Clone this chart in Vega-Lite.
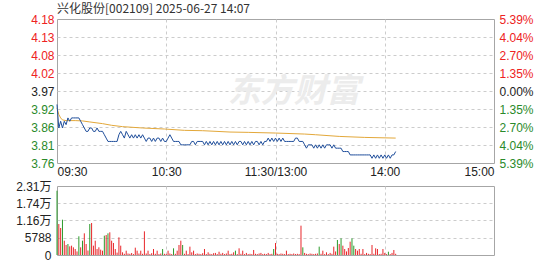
{
  "$schema": "https://vega.github.io/schema/vega-lite/v6.json",
  "background": "white",
  "padding": {"left": 15, "top": 2, "right": 5, "bottom": 5},
  "spacing": 23,
  "bounds": "flush",
  "config": {
    "view": {"stroke": "#a6a6a6", "strokeWidth": 1},
    "axis": {
      "labelFont": "Liberation Sans, 'Noto Sans CJK SC', sans-serif",
      "labelFontSize": 12,
      "labelColor": "#222222",
      "domain": false,
      "ticks": false,
      "title": null,
      "gridColor": "#cccccc",
      "gridDash": [3, 3],
      "gridWidth": 1
    }
  },
  "datasets": {
    "minutes": [
      {"t":0,"p":3.93,"v":21570,"d":"g"},{"t":1,"p":3.86,"v":10400,"d":"r"},{"t":2,"p":3.88,"v":9060,"d":"r"},{"t":3,"p":3.86,"v":11840,"d":"g"},
      {"t":4,"p":3.88,"v":4800,"d":"r"},{"t":5,"p":3.87,"v":3360,"d":"r"},{"t":6,"p":3.89,"v":3690,"d":"g"},{"t":7,"p":3.88,"v":2900,"d":"r"},
      {"t":8,"p":3.89,"v":3130,"d":"r"},{"t":9,"p":3.89,"v":2570,"d":"r"},{"t":10,"p":3.89,"v":2010,"d":"r"},{"t":11,"p":3.89,"v":1200,"d":"r"},
      {"t":12,"p":3.89,"v":6270,"d":"g"},{"t":13,"p":3.88,"v":2570,"d":"r"},{"t":14,"p":3.87,"v":4800,"d":"g"},{"t":15,"p":3.86,"v":7270,"d":"r"},
      {"t":16,"p":3.85,"v":3690,"d":"r"},{"t":17,"p":3.85,"v":1500,"d":"r"},{"t":18,"p":3.86,"v":10400,"d":"g"},{"t":19,"p":3.86,"v":10740,"d":"r"},
      {"t":20,"p":3.85,"v":3130,"d":"r"},{"t":21,"p":3.85,"v":4800,"d":"r"},{"t":22,"p":3.86,"v":2010,"d":"r"},{"t":23,"p":3.85,"v":2580,"d":"r"},
      {"t":24,"p":3.85,"v":1800,"d":"r"},{"t":25,"p":3.85,"v":1450,"d":"r"},{"t":26,"p":3.84,"v":6480,"d":"g"},{"t":27,"p":3.83,"v":6710,"d":"r"},
      {"t":28,"p":3.82,"v":7270,"d":"g"},{"t":29,"p":3.82,"v":7610,"d":"r"},{"t":30,"p":3.82,"v":4800,"d":"r"},{"t":31,"p":3.82,"v":4030,"d":"r"},
      {"t":32,"p":3.82,"v":2010,"d":"r"},{"t":33,"p":3.82,"v":800,"d":"r"},{"t":34,"p":3.84,"v":5930,"d":"r"},{"t":35,"p":3.85,"v":3130,"d":"r"},
      {"t":36,"p":3.84,"v":900,"d":"r"},{"t":37,"p":3.83,"v":400,"d":"r"},{"t":38,"p":3.85,"v":1450,"d":"r"},{"t":39,"p":3.84,"v":500,"d":"r"},
      {"t":40,"p":3.83,"v":400,"d":"r"},{"t":41,"p":3.84,"v":670,"d":"r"},{"t":42,"p":3.83,"v":300,"d":"r"},{"t":43,"p":3.84,"v":2460,"d":"r"},
      {"t":44,"p":3.83,"v":1450,"d":"r"},{"t":45,"p":3.84,"v":500,"d":"r"},{"t":46,"p":3.83,"v":1450,"d":"r"},{"t":47,"p":3.84,"v":400,"d":"r"},
      {"t":48,"p":3.83,"v":7940,"d":"r"},{"t":49,"p":3.82,"v":500,"d":"r"},{"t":50,"p":3.83,"v":1450,"d":"r"},{"t":51,"p":3.83,"v":300,"d":"r"},
      {"t":52,"p":3.82,"v":600,"d":"r"},{"t":53,"p":3.83,"v":2010,"d":"r"},{"t":54,"p":3.82,"v":400,"d":"r"},{"t":55,"p":3.83,"v":1450,"d":"r"},
      {"t":56,"p":3.83,"v":300,"d":"r"},{"t":57,"p":3.82,"v":500,"d":"r"},{"t":58,"p":3.83,"v":2010,"d":"g"},{"t":59,"p":3.82,"v":400,"d":"r"},
      {"t":60,"p":3.82,"v":300,"d":"r"},{"t":61,"p":3.83,"v":1450,"d":"r"},{"t":62,"p":3.84,"v":500,"d":"r"},{"t":63,"p":3.83,"v":300,"d":"r"},
      {"t":64,"p":3.82,"v":2240,"d":"g"},{"t":65,"p":3.82,"v":400,"d":"r"},{"t":66,"p":3.82,"v":1450,"d":"r"},{"t":67,"p":3.82,"v":3360,"d":"r"},
      {"t":68,"p":3.81,"v":4800,"d":"r"},{"t":69,"p":3.81,"v":3360,"d":"g"},{"t":70,"p":3.81,"v":400,"d":"r"},{"t":71,"p":3.81,"v":1450,"d":"r"},
      {"t":72,"p":3.81,"v":300,"d":"r"},{"t":73,"p":3.81,"v":2800,"d":"r"},{"t":74,"p":3.82,"v":900,"d":"r"},{"t":75,"p":3.82,"v":1450,"d":"r"},
      {"t":76,"p":3.81,"v":300,"d":"r"},{"t":77,"p":3.82,"v":500,"d":"r"},{"t":78,"p":3.82,"v":400,"d":"r"},{"t":79,"p":3.82,"v":300,"d":"r"},
      {"t":80,"p":3.82,"v":600,"d":"r"},{"t":81,"p":3.81,"v":2010,"d":"r"},{"t":82,"p":3.82,"v":300,"d":"r"},{"t":83,"p":3.81,"v":900,"d":"r"},
      {"t":84,"p":3.82,"v":400,"d":"r"},{"t":85,"p":3.81,"v":300,"d":"r"},{"t":86,"p":3.82,"v":600,"d":"r"},{"t":87,"p":3.81,"v":700,"d":"r"},
      {"t":88,"p":3.82,"v":300,"d":"r"},{"t":89,"p":3.81,"v":1100,"d":"r"},{"t":90,"p":3.82,"v":400,"d":"r"},{"t":91,"p":3.81,"v":700,"d":"r"},
      {"t":92,"p":3.82,"v":300,"d":"r"},{"t":93,"p":3.81,"v":500,"d":"r"},{"t":94,"p":3.82,"v":1450,"d":"r"},{"t":95,"p":3.81,"v":300,"d":"r"},
      {"t":96,"p":3.82,"v":400,"d":"r"},{"t":97,"p":3.81,"v":900,"d":"r"},{"t":98,"p":3.82,"v":1450,"d":"g"},{"t":99,"p":3.81,"v":300,"d":"r"},
      {"t":100,"p":3.82,"v":2240,"d":"r"},{"t":101,"p":3.82,"v":400,"d":"r"},{"t":102,"p":3.81,"v":1450,"d":"r"},{"t":103,"p":3.82,"v":300,"d":"r"},
      {"t":104,"p":3.81,"v":700,"d":"r"},{"t":105,"p":3.82,"v":300,"d":"r"},{"t":106,"p":3.81,"v":400,"d":"r"},{"t":107,"p":3.82,"v":300,"d":"r"},
      {"t":108,"p":3.81,"v":1680,"d":"r"},{"t":109,"p":3.82,"v":400,"d":"r"},{"t":110,"p":3.82,"v":300,"d":"r"},{"t":111,"p":3.81,"v":500,"d":"r"},
      {"t":112,"p":3.82,"v":700,"d":"r"},{"t":113,"p":3.81,"v":300,"d":"r"},{"t":114,"p":3.82,"v":400,"d":"r"},{"t":115,"p":3.82,"v":300,"d":"r"},
      {"t":116,"p":3.83,"v":700,"d":"r"},{"t":117,"p":3.82,"v":300,"d":"r"},{"t":118,"p":3.83,"v":400,"d":"r"},{"t":119,"p":3.82,"v":2010,"d":"g"},
      {"t":120,"p":3.83,"v":4030,"d":"r"},{"t":121,"p":3.82,"v":400,"d":"r"},{"t":122,"p":3.83,"v":300,"d":"r"},{"t":123,"p":3.82,"v":500,"d":"r"},
      {"t":124,"p":3.83,"v":400,"d":"r"},{"t":125,"p":3.82,"v":300,"d":"r"},{"t":126,"p":3.82,"v":1450,"d":"r"},{"t":127,"p":3.82,"v":300,"d":"r"},
      {"t":128,"p":3.82,"v":400,"d":"r"},{"t":129,"p":3.82,"v":300,"d":"r"},{"t":130,"p":3.82,"v":500,"d":"r"},{"t":131,"p":3.83,"v":300,"d":"r"},
      {"t":132,"p":3.83,"v":400,"d":"r"},{"t":133,"p":3.82,"v":300,"d":"r"},{"t":134,"p":3.82,"v":9840,"d":"r"},{"t":135,"p":3.82,"v":2570,"d":"g"},
      {"t":136,"p":3.81,"v":700,"d":"r"},{"t":137,"p":3.80,"v":400,"d":"r"},{"t":138,"p":3.81,"v":300,"d":"r"},{"t":139,"p":3.81,"v":500,"d":"r"},
      {"t":140,"p":3.81,"v":400,"d":"r"},{"t":141,"p":3.80,"v":300,"d":"r"},{"t":142,"p":3.81,"v":400,"d":"r"},{"t":143,"p":3.80,"v":500,"d":"r"},
      {"t":144,"p":3.81,"v":2800,"d":"g"},{"t":145,"p":3.80,"v":400,"d":"r"},{"t":146,"p":3.81,"v":1450,"d":"r"},{"t":147,"p":3.80,"v":300,"d":"r"},
      {"t":148,"p":3.81,"v":900,"d":"r"},{"t":149,"p":3.81,"v":300,"d":"r"},{"t":150,"p":3.81,"v":700,"d":"r"},{"t":151,"p":3.80,"v":400,"d":"r"},
      {"t":152,"p":3.81,"v":2800,"d":"r"},{"t":153,"p":3.80,"v":1200,"d":"r"},{"t":154,"p":3.80,"v":5030,"d":"g"},{"t":155,"p":3.80,"v":3690,"d":"r"},
      {"t":156,"p":3.80,"v":5590,"d":"g"},{"t":157,"p":3.79,"v":3130,"d":"r"},{"t":158,"p":3.79,"v":2010,"d":"r"},{"t":159,"p":3.79,"v":1200,"d":"r"},
      {"t":160,"p":3.79,"v":2350,"d":"r"},{"t":161,"p":3.78,"v":4470,"d":"r"},{"t":162,"p":3.78,"v":5590,"d":"g"},{"t":163,"p":3.78,"v":3130,"d":"g"},
      {"t":164,"p":3.78,"v":2010,"d":"r"},{"t":165,"p":3.78,"v":1450,"d":"r"},{"t":166,"p":3.78,"v":2010,"d":"r"},{"t":167,"p":3.78,"v":400,"d":"r"},
      {"t":168,"p":3.78,"v":2010,"d":"r"},{"t":169,"p":3.78,"v":300,"d":"r"},{"t":170,"p":3.78,"v":700,"d":"r"},{"t":171,"p":3.78,"v":400,"d":"r"},
      {"t":172,"p":3.78,"v":300,"d":"r"},{"t":173,"p":3.77,"v":3360,"d":"r"},{"t":174,"p":3.78,"v":400,"d":"r"},{"t":175,"p":3.77,"v":2240,"d":"r"},
      {"t":176,"p":3.78,"v":2010,"d":"r"},{"t":177,"p":3.77,"v":300,"d":"r"},{"t":178,"p":3.78,"v":400,"d":"r"},{"t":179,"p":3.77,"v":2010,"d":"r"},
      {"t":180,"p":3.78,"v":700,"d":"r"},{"t":181,"p":3.77,"v":300,"d":"r"},{"t":182,"p":3.78,"v":1100,"d":"g"},{"t":183,"p":3.77,"v":300,"d":"r"},
      {"t":184,"p":3.78,"v":700,"d":"r"},{"t":185,"p":3.78,"v":1680,"d":"r"},{"t":186,"p":3.79,"v":400,"d":"r"}
    ],
    "avg": [
      {"t":0,"a":3.92},{"t":1,"a":3.90},{"t":2,"a":3.89},{"t":3,"a":3.884},{"t":5,"a":3.882},{"t":10,"a":3.882},
      {"t":14,"a":3.881},{"t":18,"a":3.878},{"t":25,"a":3.873},{"t":30,"a":3.868},{"t":36,"a":3.864},{"t":47,"a":3.860},
      {"t":59,"a":3.857},{"t":70,"a":3.853},{"t":80,"a":3.852},{"t":95,"a":3.848},{"t":105,"a":3.847},{"t":120,"a":3.845},
      {"t":136,"a":3.842},{"t":142,"a":3.840},{"t":155,"a":3.835},{"t":169,"a":3.832},{"t":186,"a":3.830}
    ],
    "brand": [{"label": "东方财富", "t": 130, "p": 3.967}]
  },
  "vconcat": [
    {
      "width": 437,
      "height": 144,
      "title": {
        "text": "兴化股份[002109] 2025-06-27 14:07",
        "anchor": "start",
        "frame": "group",
        "font": "'Noto Sans CJK SC', sans-serif",
        "fontSize": 12,
        "fontWeight": "normal",
        "color": "#333333",
        "offset": -3
      },
      "encoding": {
        "x": {
          "field": "t", "type": "quantitative",
          "scale": {"domain": [0, 240], "nice": false},
          "axis": {
            "values": [0, 60, 120, 180, 240],
            "labelExpr": "datum.value == 0 ? '09:30' : datum.value == 60 ? '10:30' : datum.value == 120 ? '11:30/13:00' : datum.value == 180 ? '14:00' : '15:00'",
            "labelFlush": true,
            "labelPadding": 3,
            "grid": true,
            "gridOpacity": {"condition": {"test": "datum.value == 0 || datum.value == 240", "value": 0}, "value": 1}
          }
        }
      },
      "layer": [
        {
          "data": {"name": "brand"},
          "mark": {"type": "text", "font": "'Noto Sans CJK SC', sans-serif", "fontSize": 33, "fontWeight": "bold", "fontStyle": "italic", "color": "#ececec"},
          "encoding": {
            "y": {"field": "p", "type": "quantitative", "scale": {"domain": [3.7559376, 4.1840624], "nice": false, "zero": false}, "axis": null},
            "text": {"field": "label"}
          }
        },
        {
          "data": {"name": "avg"},
          "mark": {"type": "line", "color": "#e3a83a", "strokeWidth": 1},
          "encoding": {
            "y": {
              "field": "a", "type": "quantitative",
              "scale": {"domain": [3.7559376, 4.1840624], "nice": false, "zero": false},
              "axis": {
                "orient": "right",
                "values": [3.7559376, 3.8094532, 3.8629688, 3.9164844, 3.97, 4.0235156, 4.0770312, 4.1305468, 4.1840624],
                "labelExpr": "format(abs(datum.value - 3.97) / 3.97 * 100, '.2f') + '%'",
                "labelPadding": 5,
                "grid": false,
                "labelColor": {"condition": [{"test": "datum.value > 3.971", "value": "#ee2222"}, {"test": "datum.value < 3.969", "value": "#2a8a2a"}], "value": "#222222"}
              }
            }
          }
        },
        {
          "data": {"name": "minutes"},
          "mark": {"type": "line", "color": "#1f4e9b", "strokeWidth": 1},
          "encoding": {
            "y": {
              "field": "p", "type": "quantitative",
              "scale": {"domain": [3.7559376, 4.1840624], "nice": false, "zero": false},
              "axis": {
                "orient": "left",
                "values": [3.7559376, 3.8094532, 3.8629688, 3.9164844, 3.97, 4.0235156, 4.0770312, 4.1305468, 4.1840624],
                "format": ".2f",
                "labelPadding": 3,
                "grid": true,
                "gridOpacity": {"condition": {"test": "datum.value < 3.76 || datum.value > 4.18", "value": 0}, "value": 1},
                "labelColor": {"condition": [{"test": "datum.value > 3.971", "value": "#ee2222"}, {"test": "datum.value < 3.969", "value": "#2a8a2a"}], "value": "#222222"}
              }
            }
          }
        }
      ],
      "resolve": {"axis": {"y": "independent"}}
    },
    {
      "width": 437,
      "height": 69,
      "data": {"name": "minutes"},
      "mark": {"type": "rule", "strokeWidth": 1},
      "encoding": {
        "x": {
          "field": "t", "type": "quantitative",
          "scale": {"domain": [0, 240], "nice": false},
          "axis": {
            "values": [0, 60, 120, 180, 240],
            "labels": false,
            "grid": true,
            "gridOpacity": {"condition": {"test": "datum.value == 0 || datum.value == 240", "value": 0}, "value": 1}
          }
        },
        "y": {
          "field": "v", "type": "quantitative",
          "scale": {"domain": [0, 23150], "nice": false},
          "axis": {
            "values": [0, 5788, 11576, 17364, 23150],
            "labelExpr": "datum.value >= 10000 ? format(datum.value / 10000, '.2f') + '万' : format(datum.value, 'd')",
            "labelPadding": 6,
            "grid": true,
            "gridOpacity": {"condition": {"test": "datum.value == 0 || datum.value == 23150", "value": 0}, "value": 1}
          }
        },
        "y2": {"datum": 0},
        "color": {
          "field": "d", "type": "nominal",
          "scale": {"domain": ["r", "g"], "range": ["#e8262a", "#2a9a2a"]},
          "legend": null
        }
      }
    }
  ]
}
